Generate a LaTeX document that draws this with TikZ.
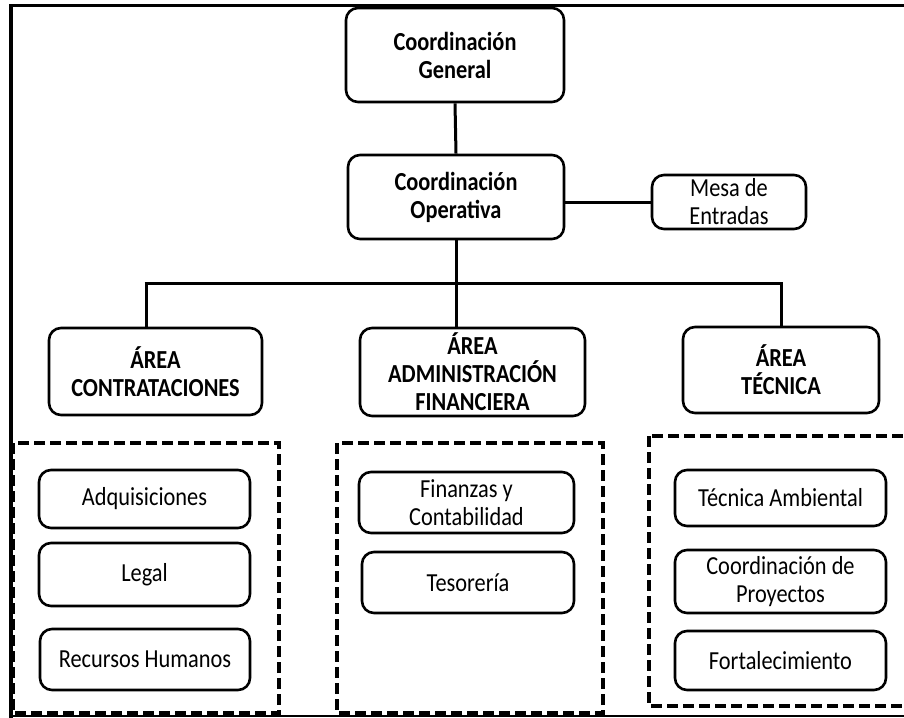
\documentclass[tikz,border=0pt]{standalone}
\usepackage{fontspec}
\setmainfont{Carlito}[FakeStretch=0.86]
\begin{document}
\begin{tikzpicture}[x=1pt,y=-1pt,
  box/.style={draw=black, line width=2.6pt, rounded corners=12pt, fill=white,
    align=center, inner sep=0pt, font=\fontsize{26}{28}\selectfont},
  bbox/.style={box, font=\fontsize{26}{28}\selectfont\bfseries},
  conn/.style={draw=black, line width=3pt},
  dashbox/.style={draw=black, line width=4pt, dash pattern=on 11pt off 5pt}]
\useasboundingbox (0,0) rectangle (904,717);
\clip (0,0) rectangle (904,717);
\fill[white] (0,0) rectangle (904,717);
% outer frame
\draw[line width=3.6pt] (11,725) -- (11,5.5) -- (915,5.5);
\draw[line width=1.5pt] (11,716) -- (915,716);
% dashed group boxes
\draw[dashbox] (13,443) rectangle (279,713);
\draw[dashbox] (337,443) rectangle (603,713);
\draw[dashbox] (649,436) rectangle (930,706);
% main nodes
\node[bbox, minimum width=218, minimum height=94] (gen) at (455,55) {Coordinación\\General};
\node[bbox, minimum width=216, minimum height=84] (op) at (456,197) {Coordinación\\Operativa};
\node[box, minimum width=154, minimum height=54] (mesa) at (729,202) {Mesa de\\Entradas};
\node[bbox, minimum width=213, minimum height=87] (acon) at (155.5,371.5) {ÁREA\\CONTRATACIONES};
\node[bbox, minimum width=225, minimum height=88] (aadm) at (472.5,372) {ÁREA\\ADMINISTRACIÓN\\FINANCIERA};
\node[bbox, minimum width=196, minimum height=86] (atec) at (781,370) {ÁREA\\TÉCNICA};
% connectors
\coordinate (jL) at (146,283);
\coordinate (jR) at (781,283);
\draw[conn] (gen.south) -- (op.north);
\draw[conn] (mesa.west) -- (mesa.west -| op.east);
\draw[conn] (op.south) -- (op.south |- aadm.north);
\draw[conn] ([xshift=-1.5pt]jL) -- ([xshift=1.5pt]jR);
\draw[conn] (jL) -- (jL |- acon.north);
\draw[conn] (jR) -- (atec.north);
% sub nodes
\node[box, minimum width=211, minimum height=58] (adq) at (144.5,499) {Adquisiciones};
\node[box, minimum width=211, minimum height=63] (legal) at (144.5,574.5) {Legal};
\node[box, minimum width=210, minimum height=61] (rrhh) at (145,659.5) {Recursos Humanos};
\node[box, minimum width=215, minimum height=61] (fin) at (466.5,502.5) {Finanzas y\\Contabilidad};
\node[box, minimum width=212, minimum height=61] (tes) at (468,582.5) {Tesorería};
\node[box, minimum width=211, minimum height=56] (tamb) at (780.5,498) {Técnica Ambiental};
\node[box, minimum width=211, minimum height=63] (cproy) at (780.5,581.5) {Coordinación de\\Proyectos};
\node[box, minimum width=211, minimum height=59] (fort) at (780.5,660.5) {Fortalecimiento};
\end{tikzpicture}
\end{document}
